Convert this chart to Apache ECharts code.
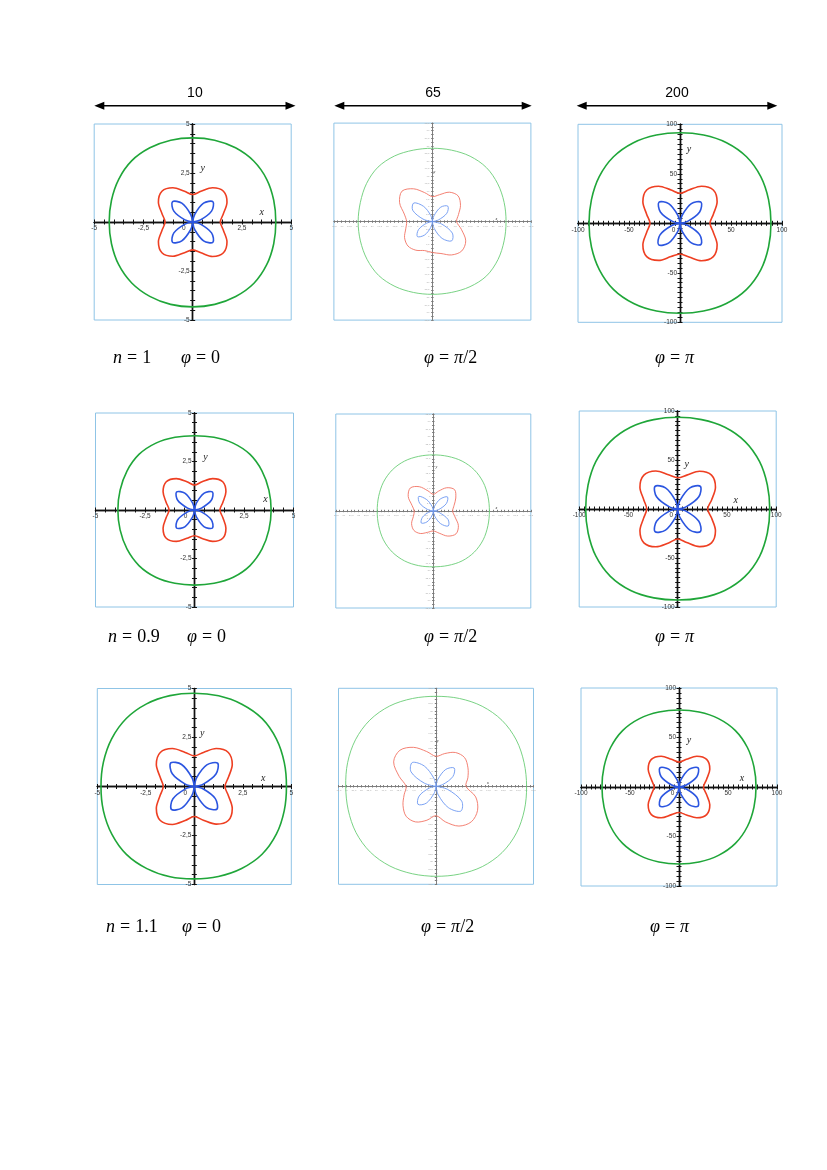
<!DOCTYPE html>
<html>
<head>
<meta charset="utf-8">
<script src="https://cdn.jsdelivr.net/npm/echarts@6/dist/echarts.min.js"></script>
<style>
  html, body { margin: 0; background: #fff; }
  #chart { width: 827px; height: 1170px; }
</style>
</head>
<body>
<div id="chart"></div>
<script>
// sampled directions, degrees from +x, counter-clockwise
const angles = [0, 15, 30, 45, 60, 75, 90, 105, 120, 135, 150, 165, 180, 195, 210, 225, 240, 255, 270, 285, 300, 315, 330, 345];

// radius read at each angle, row / column of the figure
const green11 = [4.24, 4.28, 4.36, 4.40, 4.37, 4.32, 4.29, 4.32, 4.37, 4.41, 4.36, 4.29, 4.26, 4.29, 4.36, 4.40, 4.38, 4.35, 4.33, 4.35, 4.39, 4.42, 4.36, 4.28];
const red11 = [1.41, 1.62, 2.02, 2.22, 2.02, 1.62, 1.40, 1.62, 2.02, 2.22, 2.02, 1.62, 1.41, 1.62, 2.02, 2.22, 2.02, 1.62, 1.42, 1.63, 2.03, 2.22, 2.02, 1.62];
const blue11 = [0, 0.41, 1.11, 1.46, 1.11, 0.41, 0, 0.41, 1.11, 1.46, 1.11, 0.41, 0, 0.41, 1.11, 1.46, 1.11, 0.41, 0, 0.41, 1.11, 1.46, 1.11, 0.41];

const green12 = [24.3, 24.5, 24.9, 25.2, 24.9, 24.4, 24.2, 24.4, 25.0, 25.4, 25.1, 24.6, 24.5, 24.6, 24.9, 25.1, 24.7, 24.2, 24.0, 24.2, 24.8, 25.3, 25.0, 24.5];
const red12 = [8.0, 8.9, 10.7, 12.0, 11.2, 9.2, 8.25, 9.9, 12.5, 14.2, 12.5, 9.6, 8.5, 9.1, 10.6, 11.4, 10.9, 9.9, 10.2, 10.9, 12.7, 13.7, 12.7, 9.9];
const blue12 = [0, 2.0, 5.5, 7.2, 5.5, 2.0, 0, 2.1, 5.8, 8.7, 7.5, 3.2, 0, 1.96, 5.3, 7.0, 5.1, 1.9, 0, 2.4, 6.4, 9.0, 7.6, 3.2];

const green13 = [91.9, 92.6, 94.2, 95.0, 94.0, 92.3, 91.5, 92.3, 94.0, 95.0, 94.2, 92.6, 91.9, 92.6, 94.0, 94.8, 93.6, 91.8, 90.9, 91.8, 93.6, 94.8, 94.2, 92.6];
const red13 = [30.3, 34.8, 43.3, 47.6, 43.3, 34.8, 30.3, 34.8, 43.3, 47.6, 43.3, 34.8, 30.3, 34.8, 43.3, 47.6, 43.3, 34.8, 31.0, 35.2, 43.6, 47.6, 43.3, 34.8];
const blue13 = [0, 8.4, 22.9, 30.1, 22.9, 8.4, 0, 8.4, 22.9, 30.1, 22.9, 8.4, 0, 8.6, 23.3, 30.6, 23.2, 8.4, 0, 8.4, 22.9, 30.1, 22.9, 8.4];

const green21 = [3.95, 3.97, 4.02, 4.05, 3.98, 3.88, 3.83, 3.88, 3.98, 4.05, 4.02, 3.97, 3.95, 3.97, 4.02, 4.05, 4.00, 3.91, 3.87, 3.91, 4.00, 4.05, 4.02, 3.97];
const red21 = [1.31, 1.51, 1.87, 2.06, 1.87, 1.51, 1.29, 1.51, 1.87, 2.06, 1.87, 1.51, 1.31, 1.51, 1.87, 2.06, 1.87, 1.51, 1.33, 1.52, 1.87, 2.06, 1.87, 1.51];
const blue21 = [0, 0.37, 1.00, 1.31, 1.00, 0.37, 0, 0.37, 1.00, 1.31, 1.00, 0.37, 0, 0.37, 1.00, 1.31, 1.00, 0.37, 0, 0.37, 1.00, 1.31, 1.00, 0.37];

const green22 = [18.8, 18.95, 19.3, 19.45, 19.3, 18.95, 18.8, 18.95, 19.3, 19.45, 19.3, 18.95, 18.8, 18.95, 19.3, 19.45, 19.3, 18.95, 18.7, 18.9, 19.3, 19.45, 19.3, 18.95];
const red22 = [6.5, 7.2, 8.7, 10.1, 9.0, 6.9, 5.6, 7.0, 9.4, 10.9, 9.7, 7.4, 6.4, 6.9, 8.4, 9.2, 8.7, 7.4, 6.7, 7.7, 9.7, 10.8, 9.7, 7.5];
const blue22 = [0, 1.9, 5.1, 6.7, 4.6, 1.7, 0, 1.6, 4.4, 6.9, 5.3, 2.0, 0, 1.6, 4.2, 5.7, 4.2, 1.6, 0, 1.8, 4.9, 7.1, 5.7, 2.1];

const green23 = [93.9, 94.7, 96.5, 97.3, 96.3, 94.4, 93.6, 94.4, 96.3, 97.3, 96.5, 94.7, 93.9, 94.6, 96.4, 97.2, 96.0, 93.9, 92.9, 93.9, 96.0, 97.2, 96.5, 94.7];
const red23 = [30.6, 35.8, 44.5, 48.8, 44.5, 35.8, 31.9, 36.2, 44.8, 48.8, 44.5, 35.8, 31.6, 36.0, 44.5, 48.8, 44.5, 35.8, 30.6, 35.4, 44.3, 48.8, 44.5, 35.8];
const blue23 = [0, 9.2, 24.9, 32.7, 24.9, 9.2, 0, 9.2, 24.9, 32.7, 24.9, 9.2, 0, 9.2, 24.9, 32.7, 24.9, 9.2, 0, 9.2, 24.9, 32.7, 24.9, 9.2];

const green31 = [4.75, 4.80, 4.89, 4.95, 4.90, 4.84, 4.81, 4.85, 4.92, 4.96, 4.92, 4.85, 4.81, 4.85, 4.91, 4.95, 4.89, 4.82, 4.76, 4.80, 4.88, 4.94, 4.89, 4.80];
const red31 = [1.58, 1.82, 2.26, 2.48, 2.26, 1.82, 1.58, 1.82, 2.26, 2.48, 2.26, 1.82, 1.60, 1.83, 2.26, 2.48, 2.26, 1.82, 1.55, 1.80, 2.24, 2.48, 2.26, 1.82];
const blue31 = [0, 0.48, 1.29, 1.70, 1.29, 0.48, 0, 0.48, 1.31, 1.72, 1.31, 0.48, 0, 0.47, 1.27, 1.67, 1.27, 0.47, 0, 0.46, 1.25, 1.65, 1.25, 0.46];

const green32 = [30.2, 30.4, 30.9, 31.1, 30.8, 30.3, 30.0, 30.3, 30.9, 31.2, 31.0, 30.5, 30.1, 30.3, 30.8, 31.0, 30.7, 30.2, 30.0, 30.3, 30.9, 31.2, 31.0, 30.5];
const red32 = [10.0, 11.0, 12.3, 13.5, 13.0, 11.3, 10.0, 12.0, 15.0, 17.0, 16.3, 12.7, 10.0, 11.0, 12.7, 14.1, 13.7, 11.7, 9.8, 12.3, 15.3, 16.7, 16.0, 13.7];
const blue32 = [0, 2.4, 6.5, 8.6, 6.5, 2.4, 0, 2.8, 7.8, 11.2, 9.6, 4.0, 0, 2.4, 6.5, 8.5, 6.5, 2.4, 0, 3.0, 8.2, 11.7, 9.9, 4.0];

const green33 = [78.6, 79.2, 80.6, 81.4, 80.6, 79.2, 78.6, 79.2, 80.6, 81.4, 80.6, 79.2, 78.6, 79.2, 80.6, 81.4, 80.6, 79.2, 78.6, 79.2, 80.6, 81.4, 80.6, 79.2];
const red33 = [25.0, 29.0, 36.3, 39.9, 36.3, 29.2, 25.4, 29.2, 36.3, 39.9, 36.3, 29.2, 25.4, 29.2, 36.3, 39.9, 36.3, 29.2, 26.0, 29.5, 36.3, 39.9, 36.3, 29.0];
const blue33 = [0, 7.7, 21.0, 27.6, 21.0, 7.7, 0, 7.7, 21.0, 27.6, 21.0, 7.7, 0, 7.7, 21.0, 27.6, 21.0, 7.7, 0, 7.7, 21.0, 27.6, 21.0, 7.7];

const headerLabels = ['10', '65', '200'];
const nLabels = ['1', '0.9', '1.1'];
const phaseLabels = ['0', 'π/2', 'π'];

const curves = [
  [green11, red11, blue11], [green12, red12, blue12], [green13, red13, blue13],
  [green21, red21, blue21], [green22, red22, blue22], [green23, red23, blue23],
  [green31, red31, blue31], [green32, red32, blue32], [green33, red33, blue33]
];

// frame of each panel (centre, half sizes) and where the x / y names sit
const panels = [
  { cx: 192.7, cy: 222, hw: 98.5, hh: 98, xn: [69, -10], yn: [10, -54] },
  { cx: 432.4, cy: 221.6, hw: 98.5, hh: 98.5, xn: [64, -3], yn: [2, -50] },
  { cx: 680, cy: 223.3, hw: 102, hh: 99, xn: null, yn: [9, -74] },
  { cx: 194.5, cy: 510, hw: 99, hh: 97, xn: [71, -11], yn: [11, -53] },
  { cx: 433.3, cy: 511, hw: 97.5, hh: 97, xn: [63, -3], yn: [3, -44] },
  { cx: 677.7, cy: 509, hw: 98.5, hh: 98, xn: [58, -9], yn: [9, -45] },
  { cx: 194.3, cy: 786.5, hw: 97, hh: 98, xn: [69, -8], yn: [8, -53] },
  { cx: 436, cy: 786.3, hw: 97.5, hh: 98, xn: [52, -3], yn: [2, -45] },
  { cx: 679, cy: 787, hw: 98, hh: 99, xn: [63, -9], yn: [10, -47] }
];

const colStyles = [
  { range: 5, step: 2.5, minor: 5, axis: '#111', axisW: 1.4, tick: 2.5, font: 6.5, labelColor: '#333', lw: 1.6, zeroPad: 18,
    colors: ['#1fa639', '#ee3f22', '#2b55e0'], nameFont: 10 },
  { range: 32.5, step: 2.5, minor: 2, axis: '#7a7a7a', axisW: 0.8, tick: 1.2, font: 2.5, labelColor: '#b0b0b0', lw: 0.9, zeroPad: 3,
    colors: ['#6acd76', '#f27363', '#6c97f2'], nameFont: 4 },
  { range: 100, step: 50, minor: 10, axis: '#111', axisW: 1.4, tick: 2.5, font: 6.5, labelColor: '#333', lw: 1.6, zeroPad: 13,
    colors: ['#1fa639', '#ee3f22', '#2b55e0'], nameFont: 10 }
];

const fmt = v => String(v).replace('.', ',');

const grids = [], xAxes = [], yAxes = [], polars = [], angleAxes = [], radiusAxes = [], series = [], graphics = [];

// one smooth path per curve, every point placed by the polar system
function curveSeries(i, data, color, width, petals) {
  return {
    type: 'custom', coordinateSystem: 'polar', polarIndex: i, data, silent: true, z: 5,
    renderItem: (params, api) => {
      if (params.dataIndex !== 0) return null;
      const style = { fill: 'none', stroke: color, lineWidth: width };
      if (!petals) {
        return { type: 'polygon', shape: { points: data.map(d => api.coord(d)), smooth: 0.33 }, style };
      }
      const children = [];
      for (let q = 0; q < 4; q++) {
        const pts = [];
        for (let k = 0; k <= 6; k++) pts.push(api.coord(data[(q * 6 + k) % data.length]));
        children.push({ type: 'polyline', shape: { points: pts, smooth: 0.33 }, style });
      }
      return { type: 'group', children };
    }
  };
}

panels.forEach((p, i) => {
  const s = colStyles[i % 3];
  grids.push({
    left: p.cx - p.hw, top: p.cy - p.hh, width: 2 * p.hw, height: 2 * p.hh,
    show: true, borderColor: '#8fc4e6', borderWidth: 1, backgroundColor: 'transparent'
  });
  // axes pulled in from the frame edges to the origin, a second copy gives ticks on the other side
  [0, 1].forEach(k => {
    const common = {
      gridIndex: i, type: 'value', min: -s.range, max: s.range, interval: s.step,
      splitLine: { show: false },
      axisLine: { onZero: false, lineStyle: { color: s.axis, width: s.axisW } },
      axisTick: { show: true, length: s.tick, lineStyle: { color: s.axis, width: 1 } },
      minorTick: { show: true, splitNumber: s.minor, length: s.tick, lineStyle: { color: s.axis, width: 1 } }
    };
    xAxes.push(Object.assign({}, common, {
      position: k === 0 ? 'bottom' : 'top', offset: -p.hh,
      axisLabel: k === 1 ? { show: false } : {
        fontSize: s.font, color: s.labelColor, margin: 3, showMinLabel: true, showMaxLabel: true,
        formatter: v => v === 0 ? '{z|0}' : fmt(v),
        rich: { z: { padding: [0, s.zeroPad, 0, 0], fontSize: s.font, color: s.labelColor } }
      }
    }));
    yAxes.push(Object.assign({}, common, {
      position: k === 0 ? 'left' : 'right', offset: -p.hw,
      axisLabel: k === 1 ? { show: false } : {
        fontSize: s.font, color: s.labelColor, margin: 3, showMinLabel: true, showMaxLabel: true,
        formatter: v => v === 0 ? '' : fmt(v)
      }
    }));
  });

  // hidden polar system over the same origin for the curves
  polars.push({ center: [p.cx, p.cy], radius: Math.min(p.hw, p.hh) });
  angleAxes.push({
    polarIndex: i, type: 'value', min: 0, max: 360, startAngle: 0, clockwise: false,
    axisLine: { show: false }, axisTick: { show: false }, axisLabel: { show: false }, splitLine: { show: false }
  });
  radiusAxes.push({
    polarIndex: i, type: 'value', min: 0, max: s.range,
    axisLine: { show: false }, axisTick: { show: false }, axisLabel: { show: false }, splitLine: { show: false }
  });

  const [g, r, b] = curves[i];
  const pairs = arr => angles.map((a, k) => [arr[k], a]);
  series.push(curveSeries(i, pairs(g), s.colors[0], s.lw, false));
  series.push(curveSeries(i, pairs(r), s.colors[1], s.lw, false));
  series.push(curveSeries(i, pairs(b), s.colors[2], s.lw, true));

  const nameStyle = { font: 'italic ' + s.nameFont + 'px "Liberation Serif"', fill: '#222', textAlign: 'center', textVerticalAlign: 'middle' };
  if (p.xn) graphics.push({ type: 'text', x: p.cx + p.xn[0], y: p.cy + p.xn[1], style: Object.assign({ text: 'x' }, nameStyle), z: 10 });
  if (p.yn) graphics.push({ type: 'text', x: p.cx + p.yn[0], y: p.cy + p.yn[1], style: Object.assign({ text: 'y' }, nameStyle), z: 10 });
});

// column headers with double arrows
const headerSpans = [[94.3, 295.5], [334.3, 531.7], [576.7, 777.3]];
headerLabels.forEach((t, c) => {
  const [x1, x2] = headerSpans[c];
  const y = 105.7;
  graphics.push({ type: 'text', x: (x1 + x2) / 2, y: 93, style: { text: t, font: '14px "Liberation Sans"', fill: '#000', textAlign: 'center', textVerticalAlign: 'middle' } });
  graphics.push({ type: 'line', shape: { x1: x1 + 6, y1: y, x2: x2 - 6, y2: y }, style: { stroke: '#000', lineWidth: 1.6 } });
  graphics.push({ type: 'polygon', shape: { points: [[x1, y], [x1 + 10, y - 4], [x1 + 10, y + 4]] }, style: { fill: '#000' } });
  graphics.push({ type: 'polygon', shape: { points: [[x2, y], [x2 - 10, y - 4], [x2 - 10, y + 4]] }, style: { fill: '#000' } });
});

// row captions
const rowY = [358, 637, 927];
const nX = [113, 108, 106];
const phiX = [[181, 424, 655], [187, 424, 655], [182, 421, 650]];
const mathRich = {
  i: { fontStyle: 'italic', fontFamily: 'Liberation Serif', fontSize: 18 },
  e: { fontFamily: 'Liberation Serif', fontSize: 18, padding: [0, 5, 0, 5] }
};
nLabels.forEach((n, r) => {
  graphics.push({ type: 'text', x: nX[r], y: rowY[r], style: { text: '{i|n}{e|=}' + n, rich: mathRich, font: '18px "Liberation Serif"', fill: '#000', textVerticalAlign: 'middle' } });
  phaseLabels.forEach((ph, c) => {
    const txt = ph === 'π/2' ? '{i|φ}{e|=}{i|π}/2' : (ph === 'π' ? '{i|φ}{e|=}{i|π}' : '{i|φ}{e|=}0');
    graphics.push({ type: 'text', x: phiX[r][c], y: rowY[r], style: { text: txt, rich: mathRich, font: '18px "Liberation Serif"', fill: '#000', textVerticalAlign: 'middle' } });
  });
});

const chart = echarts.init(document.getElementById('chart'));
chart.setOption({
  animation: false,
  backgroundColor: '#fff',
  grid: grids,
  xAxis: xAxes,
  yAxis: yAxes,
  polar: polars,
  angleAxis: angleAxes,
  radiusAxis: radiusAxes,
  series,
  graphic: graphics
});
</script>
</body>
</html>
